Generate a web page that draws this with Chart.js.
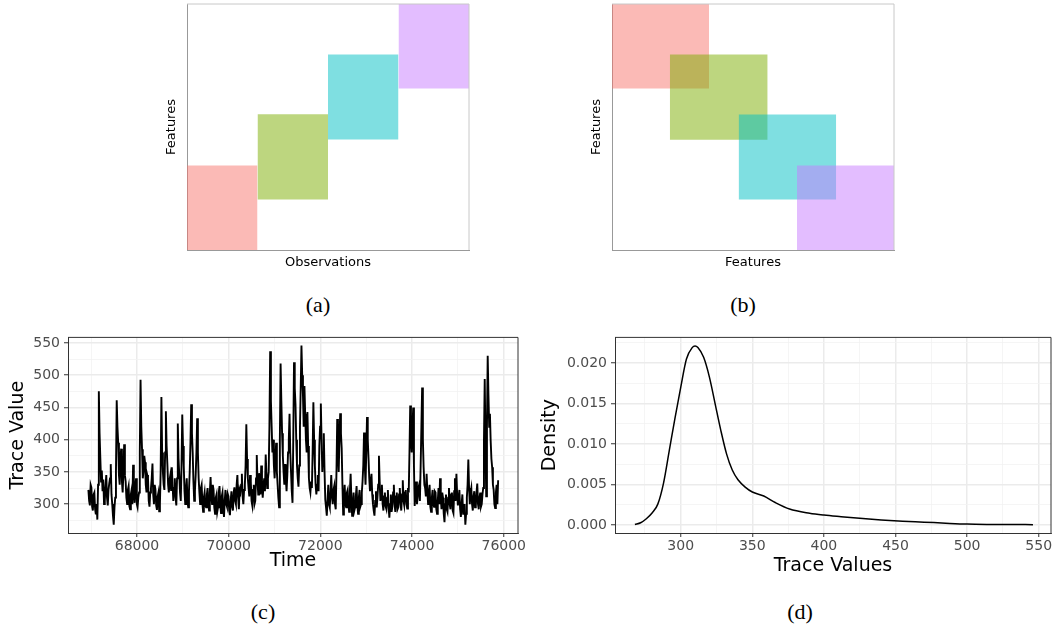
<!DOCTYPE html>
<html lang="en">
<head>
<meta charset="UTF-8">
<title>Block structure, trace and density</title>
<script src="https://cdn.jsdelivr.net/npm/chart.js"></script>
<style>
  html, body { margin: 0; padding: 0; background: #fff; overflow: hidden; }
  body { width: 1053px; height: 630px; position: relative; }
  canvas { position: absolute; }
  .cap { position: absolute; font-family: "Liberation Serif", "DejaVu Serif", serif; font-size: 22px; color: #000; transform: translate(-50%, -50%); }
</style>
</head>
<body>
<canvas id="blocksObs" width="330" height="280" style="left:150px;top:0"></canvas>
<canvas id="blocksFeat" width="330" height="280" style="left:575px;top:0"></canvas>
<canvas id="traceChart" width="545" height="260" style="left:0;top:325px"></canvas>
<canvas id="densityChart" width="540" height="260" style="left:530px;top:325px"></canvas>
<div class="cap" style="left:318px;top:305px">(a)</div>
<div class="cap" style="left:743px;top:305px">(b)</div>
<div class="cap" style="left:263px;top:612px">(c)</div>
<div class="cap" style="left:800px;top:612px">(d)</div>

<script>
// blocks in (a) and (b)
const blockColors = ['#F8766D', '#7CAE00', '#00BFC4', '#C77CFF'];
const featStart = [0, 20.5, 44.9, 65.6];
const featEnd = [34.4, 55.2, 79.5, 100];
const obsStart = [0, 25, 50, 75];
const obsEnd = [25, 50, 75, 100];

// trace (c): one sample every traceStep time units from traceStart
const traceStart = 66940;
const traceStep = 16.25;
const traceValues = [
  322, 305, 298, 330, 326, 296, 290, 315, 318, 292, 284, 300, 276, 330, 475, 410, 372, 335, 352, 320,
  338, 300, 305, 328, 345, 310, 298, 322, 332, 340, 362, 315, 300, 282, 268, 295, 310, 350, 461, 420,
  395, 345, 330, 372, 386, 335, 318, 350, 393, 345, 335, 310, 300, 322, 328, 297, 292, 315, 322, 300,
  361, 320, 302, 328, 340, 300, 295, 310, 318, 380, 493, 420, 385, 340, 352, 375, 365, 330, 318, 345,
  340, 305, 296, 318, 325, 340, 363, 315, 300, 330, 322, 298, 291, 312, 318, 289, 300, 350, 466, 380,
  350, 330, 322, 380, 444, 390, 362, 330, 318, 338, 345, 322, 357, 330, 305, 325, 340, 310, 298, 340,
  425, 370, 345, 318, 305, 360, 439, 390, 360, 320, 300, 325, 340, 305, 295, 320, 350, 395, 455, 410,
  380, 335, 305, 320, 345, 380, 433, 380, 340, 318, 300, 325, 330, 302, 288, 310, 318, 298, 295, 315,
  325, 300, 290, 318, 342, 312, 300, 330, 322, 295, 285, 310, 315, 288, 295, 318, 328, 300, 286, 312,
  318, 295, 280, 305, 322, 300, 296, 316, 312, 290, 283, 305, 320, 296, 290, 318, 326, 305, 300, 330,
  345, 310, 292, 322, 318, 330, 347, 312, 300, 322, 330, 360, 424, 370, 340, 325, 312, 345, 335, 305,
  298, 322, 330, 300, 305, 340, 376, 335, 315, 348, 335, 315, 360, 330, 310, 328, 340, 320, 377, 345,
  325, 340, 350, 420, 537, 460, 420, 380, 400, 360, 340, 370, 395, 350, 330, 310, 295, 400, 518, 460,
  410, 375, 350, 330, 362, 340, 320, 345, 380, 400, 440, 380, 350, 320, 302, 400, 520, 480, 455, 400,
  360, 340, 327, 360, 420, 480, 546, 500, 470, 420, 483, 440, 400, 380, 443, 390, 340, 325, 318, 335,
  325, 380, 458, 400, 360, 330, 315, 330, 345, 320, 390, 420, 456, 400, 350, 380, 410, 350, 307, 295,
  282, 305, 330, 300, 295, 318, 345, 312, 300, 322, 328, 300, 292, 350, 432, 380, 350, 400, 441, 410,
  387, 330, 284, 305, 330, 300, 295, 318, 322, 300, 288, 320, 347, 310, 282, 300, 318, 290, 295, 312,
  328, 298, 285, 310, 322, 296, 300, 318, 335, 360, 411, 360, 330, 380, 435, 400, 372, 340, 320, 335,
  347, 315, 300, 290, 282, 305, 320, 295, 310, 330, 375, 335, 305, 318, 330, 300, 290, 312, 318, 296,
  292, 310, 322, 295, 279, 300, 315, 288, 296, 318, 330, 300, 288, 312, 318, 292, 295, 315, 325, 300,
  290, 315, 337, 305, 298, 318, 322, 300, 293, 325, 318, 380, 453, 400, 380, 420, 450, 360, 297, 320,
  335, 300, 310, 325, 330, 305, 360, 420, 481, 400, 357, 330, 325, 312, 347, 320, 300, 318, 330, 296,
  288, 310, 322, 300, 296, 320, 318, 292, 285, 305, 325, 300, 340, 310, 292, 318, 310, 285, 272, 300,
  315, 292, 288, 310, 325, 300, 292, 315, 318, 290, 286, 320, 340, 305, 347, 315, 298, 310, 322, 292,
  280, 300, 315, 285, 290, 300, 268, 285, 310, 330, 369, 325, 300, 318, 325, 300, 290, 312, 320, 295,
  296, 318, 332, 300, 292, 310, 318, 296, 300, 315, 325, 400, 494, 400, 312, 420, 530, 470, 420, 440,
  398, 370, 357, 330, 322, 300, 294, 318, 330, 300, 337
];
const timeTicks = [68000, 70000, 72000, 74000, 76000];
const timeMinor = [67000, 69000, 71000, 73000, 75000];
const traceTicks = [300, 350, 400, 450, 500, 550];
const traceMinor = [275, 325, 375, 425, 475, 525];

// density (d)
const densityX = [268, 272, 276, 280, 284, 288, 292, 296, 300, 304, 308, 310, 312, 316, 320, 324, 328, 332, 336, 340,
  345, 350, 358, 366, 376, 390, 400, 412, 425, 440, 455, 470, 485, 500, 515, 530, 546];
const densityY = [0.0001, 0.0003, 0.0008, 0.0015, 0.0026, 0.0052, 0.0092, 0.0132, 0.0170, 0.0205, 0.0219, 0.0221, 0.0219,
  0.0207, 0.0183, 0.0150, 0.0117, 0.0088, 0.0068, 0.0056, 0.0047, 0.0041, 0.0036, 0.0028, 0.0020, 0.00148, 0.00125,
  0.00105, 0.00085, 0.00065, 0.0005, 0.00038, 0.00025, 0.00014, 0.0001, 0.00009, 0.00007];
const valueTicks = [300, 350, 400, 450, 500, 550];
const valueMinor = [275, 325, 375, 425, 475, 525];
const densTicks = [0, 0.005, 0.01, 0.015, 0.02];
const densMinor = [0.0025, 0.0075, 0.0125, 0.0175, 0.0225];

Chart.defaults.font.family = 'DejaVu Sans';

// top and right side of the panel box
const frame = {
  id: 'frame',
  afterDatasetsDraw(chart, args, opts) {
    const { ctx, chartArea: a } = chart;
    ctx.save();
    ctx.strokeStyle = opts.color;
    ctx.lineWidth = 1;
    ctx.beginPath();
    ctx.moveTo(a.left, a.top);
    ctx.lineTo(a.right, a.top);
    ctx.lineTo(a.right, a.bottom);
    ctx.stroke();
    ctx.restore();
  }
};

function withAlpha(hex, a) {
  const n = parseInt(hex.slice(1), 16);
  return `rgba(${n >> 16}, ${(n >> 8) & 255}, ${n & 255}, ${a})`;
}

// later blocks are painted over earlier ones
function blockSets(xs, xe, ys, ye) {
  return blockColors.map((c, i) => ({
    data: [{ x: xs[i], y: ye[i] }, { x: xe[i], y: ye[i] }],
    fill: { value: ys[i] },
    backgroundColor: withAlpha(c, 0.5),
    borderWidth: 0,
    pointRadius: 0,
    order: blockColors.length - i
  }));
}

function blankAxis(title, size, titlePad, reverse) {
  return {
    type: 'linear', min: 0, max: 100, reverse: !!reverse,
    afterFit: ax => { if (ax.isHorizontal()) ax.height = size; else ax.width = size; },
    ticks: { display: false },
    grid: { display: false },
    border: { color: '#999999', width: 1 },
    title: { display: true, text: title, color: '#000', font: { size: 13 }, padding: titlePad }
  };
}

function gridAxis(major, minor, fmt, o) {
  const isMajor = v => major.some(m => Math.abs(m - v) < 1e-9);
  return {
    type: 'linear', min: o.min, max: o.max,
    afterBuildTicks: ax => { ax.ticks = major.concat(minor).sort((a, b) => a - b).map(v => ({ value: v })); },
    afterFit: ax => { if (ax.isHorizontal()) ax.height = o.size; else ax.width = o.size; },
    ticks: {
      autoSkip: false, maxRotation: 0, padding: o.tickPad, color: '#4D4D4D', font: { size: 14 },
      callback: v => isMajor(v) ? fmt(v) : ''
    },
    grid: {
      color: c => isMajor(c.tick.value) ? '#EBEBEB' : '#F3F3F3',
      lineWidth: c => isMajor(c.tick.value) ? 1.5 : 0.8,
      tickLength: 4,
      tickWidth: 1,
      tickColor: c => isMajor(c.tick.value) ? '#333333' : 'rgba(0,0,0,0)'
    },
    border: { color: '#333333', width: 1 },
    title: { display: true, text: o.title, color: '#000', font: { size: 19 }, padding: o.titlePad }
  };
}

const common = {
  responsive: false,
  animation: false,
  plugins: { legend: { display: false }, tooltip: { enabled: false } }
};

// (a) observations x features
new Chart(document.getElementById('blocksObs'), {
  type: 'line',
  data: { datasets: blockSets(obsStart, obsEnd, featStart, featEnd) },
  options: {
    ...common,
    layout: { padding: { top: 4, right: 11, left: 0, bottom: 0 } },
    plugins: { ...common.plugins, frame: { color: '#c8c8c8' } },
    scales: {
      x: blankAxis('Observations', 30, { bottom: 10 }),
      y: blankAxis('Features', 37, { top: 14 })
    }
  },
  plugins: [frame]
});

// (b) features x features
new Chart(document.getElementById('blocksFeat'), {
  type: 'line',
  data: { datasets: blockSets(featStart, featEnd, featStart, featEnd) },
  options: {
    ...common,
    layout: { padding: { top: 4, right: 11, left: 0, bottom: 0 } },
    plugins: { ...common.plugins, frame: { color: '#c8c8c8' } },
    scales: {
      x: blankAxis('Features', 30, { bottom: 10 }),
      y: blankAxis('Features', 37, { top: 14 }, true)
    }
  },
  plugins: [frame]
});

// (c) trace over time
new Chart(document.getElementById('traceChart'), {
  type: 'line',
  data: {
    datasets: [{
      data: traceValues.map((v, i) => ({ x: traceStart + i * traceStep, y: v })),
      borderColor: '#000',
      borderWidth: 1.9,
      pointRadius: 0,
      tension: 0
    }]
  },
  options: {
    ...common,
    layout: { padding: { top: 7, right: 27, left: 0, bottom: 0 } },
    plugins: { ...common.plugins, frame: { color: '#333333' } },
    scales: {
      x: gridAxis(timeTicks, timeMinor, v => String(v),
        { min: 66495, max: 76311, size: 52, tickPad: 1, title: 'Time', titlePad: { bottom: 13 } }),
      y: gridAxis(traceTicks, traceMinor, v => String(v),
        { min: 255.2, max: 558.6, size: 68, tickPad: 4, title: 'Trace Value', titlePad: { top: 6.5 } })
    }
  },
  plugins: [frame]
});

// (d) density of trace values
new Chart(document.getElementById('densityChart'), {
  type: 'line',
  data: {
    datasets: [{
      data: densityX.map((x, i) => ({ x: x, y: densityY[i] })),
      borderColor: '#000',
      borderWidth: 1.5,
      pointRadius: 0,
      cubicInterpolationMode: 'monotone'
    }]
  },
  options: {
    ...common,
    layout: { padding: { top: 7, right: 19, left: 0, bottom: 0 } },
    plugins: { ...common.plugins, frame: { color: '#333333' } },
    scales: {
      x: gridAxis(valueTicks, valueMinor, v => String(v),
        { min: 254.1, max: 558.6, size: 52, tickPad: 1, title: 'Trace Values', titlePad: { bottom: 8 } }),
      y: gridAxis(densTicks, densMinor, v => v.toFixed(3),
        { min: -0.00096, max: 0.02316, size: 85, tickPad: 4, title: 'Density', titlePad: { top: 8.5 } })
    }
  },
  plugins: [frame]
});
</script>
</body>
</html>
